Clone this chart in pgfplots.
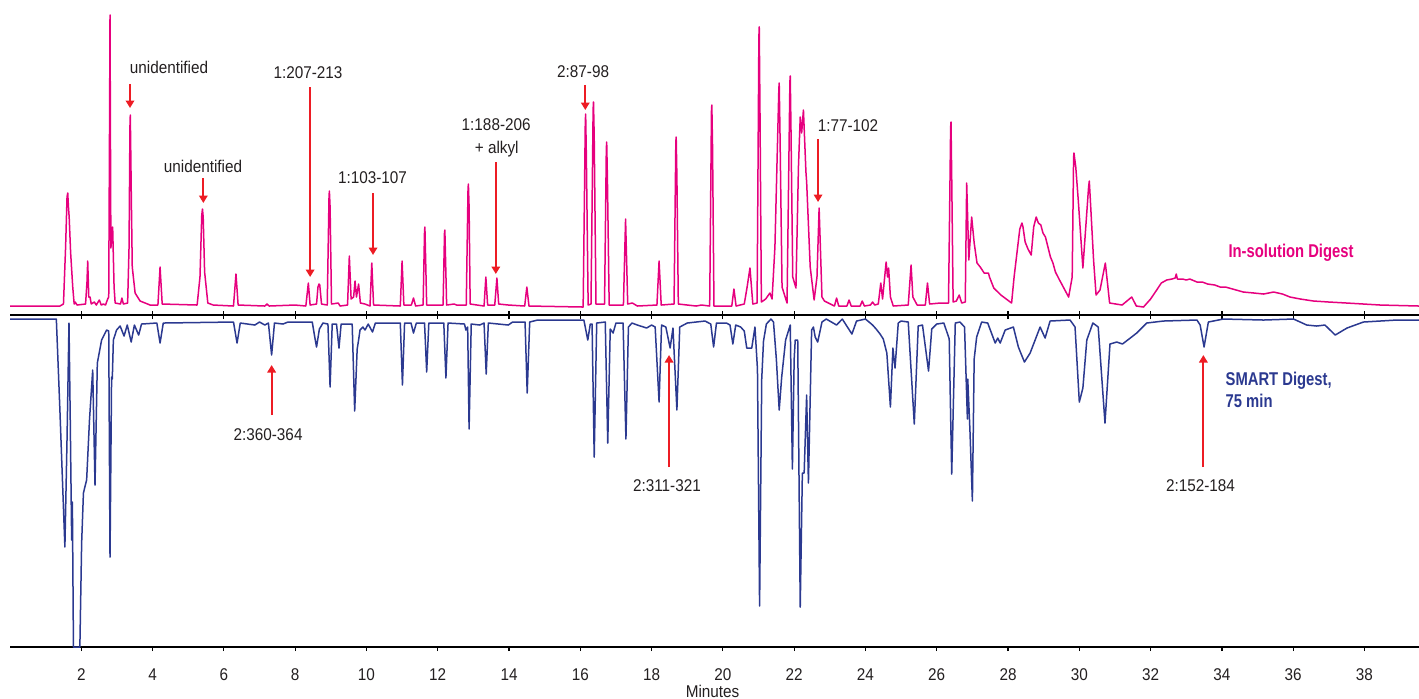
\documentclass[border=0pt]{standalone}
\usepackage{fontspec}
\setmainfont{Liberation Sans}[FakeStretch=0.9]
\newfontfamily\condbold{Liberation Sans}[FakeStretch=0.8]
\usepackage{pgfplots}
\pgfplotsset{compat=1.18}
\usepackage{pgfplotstable}
\usetikzlibrary{arrows.meta}
\definecolor{mag}{RGB}{230,0,126}
\definecolor{navy}{RGB}{43,57,144}
\definecolor{arr}{RGB}{237,28,36}
\definecolor{txt}{RGB}{35,31,32}
\newcommand\lab{\fontsize{17}{20}\selectfont}
\newcommand\blab{\condbold\bfseries\fontsize{18.5}{22}\selectfont}

% In-solution digest (intensity above its baseline)
\pgfplotstableread[row sep=\\]{
x y\\
0.00 1\\ 1.40 1\\ 1.50 3\\ 1.56 60\\ 1.60 110\\ 1.62 114\\ 1.64 100\\ 1.66 90\\ 1.70 55\\ 1.76 20\\ 1.80 3\\ 1.83 5\\ 1.88 2\\
2.12 3\\ 2.16 25\\ 2.18 46\\ 2.21 10\\ 2.245 10\\ 2.28 3\\ 2.366 5\\ 2.42 2\\ 2.506 7\\ 2.56 2\\ 2.62 3\\ 2.68 2\\ 2.74 8\\ 2.77 10\\
2.795 200\\ 2.806 292\\ 2.815 200\\ 2.83 59\\ 2.88 80\\ 2.92 20\\ 2.95 4\\ 3.10 3\\ 3.14 9\\ 3.18 3\\ 3.30 4\\ 3.34 60\\ 3.365 180\\ 3.375 192\\ 3.39 150\\ 3.40 120\\ 3.43 40\\ 3.51 14\\ 3.65 6\\ 3.93 2\\
4.15 2\\ 4.21 40\\ 4.27 3\\ 5.25 2\\ 5.33 30\\ 5.38 92\\ 5.40 98\\ 5.42 90\\ 5.46 35\\ 5.55 4\\ 5.70 2\\ 6.27 1\\ 6.34 33\\ 6.40 2\\ 7.15 1\\ 7.21 3\\ 7.27 1\\ 7.99 2\\
8.30 1\\ 8.37 24\\ 8.42 2\\ 8.60 3\\ 8.64 20\\ 8.67 23\\ 8.69 22\\ 8.74 3\\ 8.90 2\\ 8.95 110\\ 8.96 116\\ 8.98 100\\ 9.02 3\\ 9.21 4\\ 9.26 1\\ 9.47 2\\ 9.52 51\\ 9.57 8\\
9.64 10\\ 9.68 26\\ 9.72 10\\ 9.78 23\\ 9.83 4\\ 9.96 3\\ 10.10 1\\ 10.15 44\\ 10.20 2\\ 10.95 1\\ 11.00 46\\ 11.05 2\\ 11.26 2\\ 11.32 9\\ 11.38 1\\
11.59 2\\ 11.63 76\\ 11.64 80\\ 11.69 2\\ 12.15 2\\ 12.19 74\\ 12.20 77\\ 12.25 2\\ 12.46 3\\ 12.53 2\\ 12.80 2\\ 12.85 118\\ 12.86 123\\ 12.88 100\\ 12.91 3\\ 13.30 1\\ 13.35 30\\ 13.40 2\\
13.60 2\\ 13.66 29\\ 13.71 3\\ 13.98 2\\ 14.44 1\\ 14.50 20\\ 14.56 1\\ 16.08 0\\ 16.14 185\\ 16.15 193\\ 16.17 150\\ 16.22 2\\ 16.30 3\\ 16.36 198\\ 16.37 205\\ 16.39 170\\ 16.44 3\\ 16.68 3\\
16.73 158\\ 16.74 165\\ 16.76 130\\ 16.81 2\\ 17.21 2\\ 17.27 88\\ 17.33 3\\ 17.46 4\\ 17.60 1\\ 18.15 2\\ 18.21 46\\ 18.27 2\\ 18.63 3\\ 18.68 165\\ 18.69 170\\ 18.71 130\\ 18.75 3\\ 19.25 1\\
19.40 2\\ 19.63 1\\ 19.68 196\\ 19.69 202\\ 19.71 160\\ 19.75 1\\ 20.25 1\\ 20.31 18\\ 20.37 1\\ 20.60 3\\ 20.68 20\\ 20.76 39\\ 20.84 3\\ 20.96 4\\ 21.01 270\\ 21.02 280\\ 21.04 200\\ 21.08 5\\
21.20 8\\ 21.32 14\\ 21.38 8\\ 21.46 60\\ 21.57 218\\ 21.58 224\\ 21.60 180\\ 21.66 20\\ 21.80 4\\ 21.88 225\\ 21.89 231\\ 21.91 180\\ 21.96 30\\ 22.05 19\\ 22.12 140\\ 22.17 190\\ 22.21 174\\
22.26 197\\ 22.33 135\\ 22.35 125\\ 22.45 40\\ 22.56 7\\ 22.64 30\\ 22.70 99\\ 22.78 10\\ 22.85 6\\ 23.13 1\\ 23.19 9\\ 23.25 1\\ 23.48 1\\ 23.54 7\\
23.60 1\\ 23.85 1\\ 23.91 6\\ 23.97 1\\ 24.14 2\\ 24.20 5\\ 24.26 2\\ 24.36 3\\ 24.43 24\\ 24.48 8\\ 24.58 45\\ 24.62 30\\ 24.65 39\\ 24.70 10\\
24.78 1\\ 25.20 2\\ 25.28 42\\ 25.33 10\\ 25.45 2\\ 25.68 2\\ 25.74 24\\ 25.80 3\\ 26.10 4\\ 26.33 4\\ 26.39 180\\ 26.40 185\\ 26.42 130\\ 26.46 5\\ 26.55 6\\ 26.63 12\\
26.70 4\\ 26.80 5\\ 26.84 124\\ 26.90 47\\ 26.98 90\\ 27.05 64\\ 27.13 44\\ 27.22 40\\ 27.33 34\\ 27.45 34\\ 27.48 30\\ 27.60 19\\ 27.80 12\\
28.10 4\\ 28.17 30\\ 28.25 54\\ 28.33 78\\ 28.39 84\\ 28.42 80\\ 28.48 65\\ 28.56 58\\ 28.65 52\\ 28.72 80\\ 28.79 90\\ 28.85 84\\ 28.92 82\\ 28.98 74\\ 29.05 70\\ 29.12 60\\ 29.19 50\\ 29.26 44\\ 29.33 35\\ 29.43 28\\ 29.52 22\\ 29.70 10\\
29.80 30\\ 29.84 150\\ 29.85 154\\ 29.90 140\\ 29.97 107\\ 30.10 39\\ 30.26 120\\ 30.28 126\\ 30.32 100\\ 30.40 47\\ 30.47 12\\ 30.58 17\\ 30.73 44\\ 30.85 4\\ 31.20 2\\ 31.47 10\\ 31.60 1\\
31.80 0\\ 32.00 8\\ 32.17 17\\ 32.30 24\\ 32.45 27\\ 32.60 28\\ 32.69 29\\ 32.72 33\\ 32.75 28\\ 32.90 28\\ 33.00 27\\ 33.10 28\\ 33.30 25\\ 33.45 25\\ 33.60 23\\ 33.80 22\\ 33.95 20\\ 34.10 20\\ 34.30 18\\ 34.60 15\\ 34.90 14\\
35.17 13\\ 35.45 15\\ 35.70 13\\ 35.91 10\\ 36.20 8\\ 36.57 6\\ 37.00 5\\ 37.50 4\\ 38.44 2\\ 39.53 1\\
}\topdata

% SMART digest (depth below its baseline)
\pgfplotstableread[row sep=\\]{
x y\\
0.00 0\\ 1.30 0\\ 1.40 91\\ 1.54 228\\ 1.60 120\\ 1.655 4\\ 1.69 100\\ 1.73 221\\ 1.75 183\\ 1.78 328\\ 1.96 328\\ 2.01 224\\ 2.06 174\\ 2.10 168\\
2.15 161\\ 2.23 101\\ 2.32 51\\ 2.385 166\\ 2.45 44\\ 2.57 21\\ 2.71 11\\ 2.77 12\\ 2.806 238\\ 2.85 58\\ 2.87 60\\ 2.90 21\\ 2.99 11\\ 3.09 7\\
3.20 17\\ 3.29 6\\ 3.40 23\\ 3.49 6\\ 3.61 16\\ 3.69 5\\ 4.12 4\\ 4.21 24\\ 4.30 4\\ 6.27 3\\ 6.37 24\\ 6.46 4\\ 6.87 6\\ 7.00 3\\ 7.15 6\\ 7.25 4\\
7.34 36\\ 7.42 4\\ 7.66 5\\ 7.80 3\\ 8.48 3\\ 8.55 18\\ 8.60 28\\ 8.68 10\\ 8.78 4\\ 8.92 5\\ 8.98 68\\ 9.04 5\\ 9.16 5\\ 9.23 29\\ 9.29 5\\ 9.60 5\\
9.67 92\\ 9.74 30\\ 9.78 21\\ 9.82 11\\ 9.90 8\\ 9.96 11\\ 10.05 5\\ 10.17 13\\ 10.25 4\\ 10.95 4\\ 11.01 66\\ 11.07 4\\ 11.25 4\\ 11.32 14\\
11.40 4\\ 11.63 4\\ 11.69 53\\ 11.75 4\\ 12.17 4\\ 12.23 59\\ 12.29 4\\ 12.75 5\\ 12.79 11\\ 12.84 8\\ 12.88 110\\ 12.94 5\\ 13.18 6\\ 13.30 4\\
13.36 55\\ 13.42 4\\ 13.70 5\\ 13.98 6\\ 14.10 3\\ 14.45 3\\ 14.51 74\\ 14.58 3\\ 14.80 1\\ 16.10 1\\ 16.21 21\\ 16.28 5\\ 16.33 5\\ 16.39 138\\
16.46 4\\ 16.70 3\\ 16.77 124\\ 16.84 10\\ 16.92 14\\ 17.00 4\\ 17.20 4\\ 17.28 120\\ 17.35 8\\ 17.45 4\\ 17.60 6\\ 17.86 9\\ 18.00 6\\ 18.10 8\\
18.21 83\\ 18.28 6\\ 18.40 8\\ 18.52 29\\ 18.60 9\\ 18.71 91\\ 18.79 8\\ 19.00 4\\ 19.50 2\\ 19.66 5\\ 19.74 28\\ 19.82 4\\ 20.10 4\\ 20.20 6\\
20.28 25\\ 20.36 6\\ 20.50 8\\ 20.60 12\\ 20.67 29\\ 20.81 29\\ 20.90 8\\ 20.97 50\\ 21.03 287\\ 21.09 60\\ 21.14 22\\ 21.22 5\\ 21.35 0\\
21.42 3\\ 21.50 40\\ 21.58 91\\ 21.65 58\\ 21.76 21\\ 21.89 6\\ 21.95 150\\ 22.00 40\\ 22.03 21\\ 22.10 21\\ 22.17 288\\ 22.23 154\\ 22.28 154\\
22.35 76\\ 22.40 164\\ 22.49 11\\ 22.54 8\\ 22.59 18\\ 22.66 23\\ 22.78 3\\ 22.90 0\\ 23.19 6\\ 23.35 0\\ 23.62 15\\ 23.75 2\\ 24.00 0\\ 24.10 3\\
24.20 6\\ 24.30 10\\ 24.41 15\\ 24.50 20\\ 24.60 34\\ 24.70 88\\ 24.77 29\\ 24.83 49\\ 24.92 4\\ 25.00 2\\ 25.20 3\\ 25.37 105\\ 25.48 7\\ 25.60 6\\
25.77 52\\ 25.86 10\\ 26.00 5\\ 26.20 4\\ 26.35 20\\ 26.42 155\\ 26.52 4\\ 26.65 3\\ 26.78 8\\ 26.86 100\\ 26.87 60\\ 26.93 110\\ 27.00 182\\
27.05 40\\ 27.12 18\\ 27.26 3\\ 27.43 4\\ 27.64 24\\ 27.71 19\\ 27.78 24\\ 27.92 11\\ 28.15 8\\ 28.29 28\\ 28.46 43\\ 28.62 34\\ 28.90 8\\ 29.04 19\\
29.18 2\\ 29.74 1\\ 29.88 8\\ 30.00 83\\ 30.10 69\\ 30.21 21\\ 30.38 4\\ 30.53 8\\ 30.72 104\\ 30.86 25\\ 31.05 23\\ 31.21 25\\ 31.43 19\\ 31.61 14\\
31.89 4\\ 32.36 2\\ 33.30 1\\ 33.39 6\\ 33.50 28\\ 33.62 3\\ 34.04 0\\ 35.17 1\\ 36.01 0\\ 36.38 6\\ 36.66 7\\ 36.89 6\\ 37.18 16\\ 37.51 9\\
37.97 3\\ 38.91 1\\ 39.53 1\\
}\botdata

\begin{document}
\begin{tikzpicture}
\begin{axis}[
  x=35.64pt, y=1pt,
  xmin=0, xmax=39.53, ymin=0, ymax=647,
  axis x line*=bottom, axis y line=none,
  xtick={2,4,...,38}, ytick=\empty,
  tick align=outside, major tick length=4pt,
  x tick style={black, line width=1.2pt},
  axis line style={black, line width=1.5pt},
  /pgf/number format/assume math mode=true,
  xticklabel style={anchor=base, yshift=-29pt, font=\lab, text=txt, inner sep=0pt},
  clip=false,
]
\coordinate (bl) at (axis cs:-0.2806,-51);
\coordinate (tr) at (axis cs:39.53,647);

% middle baseline with ticks
\draw[black, line width=1.5pt] (axis cs:0,332) -- (axis cs:39.53,332);
\pgfplotsinvokeforeach{2,4,...,38}{\draw[black, line width=1.2pt] (axis cs:#1,328) -- (axis cs:#1,336);}

\addplot[mag, line width=1.5pt, line join=round, mark=none] table[x=x, y expr=\thisrow{y}+340] {\topdata};
\addplot[navy, line width=1.5pt, line join=round, mark=none] table[x=x, y expr=328-\thisrow{y}] {\botdata};

% annotation arrows
\tikzset{ann/.style={arr, line width=2pt, -{Triangle[width=8.5pt,length=7.5pt]}}}
\draw[ann] (axis cs:3.367,563) -- (axis cs:3.367,539);
\draw[ann] (axis cs:5.424,469) -- (axis cs:5.424,444);
\draw[ann] (axis cs:8.42,560) -- (axis cs:8.42,370);
\draw[ann] (axis cs:10.185,454) -- (axis cs:10.185,392);
\draw[ann] (axis cs:13.63,485) -- (axis cs:13.63,373);
\draw[ann] (axis cs:16.14,562) -- (axis cs:16.14,537);
\draw[ann] (axis cs:22.67,508) -- (axis cs:22.67,445);
\draw[ann] (axis cs:7.34,232) -- (axis cs:7.34,282);
\draw[ann] (axis cs:18.49,180) -- (axis cs:18.49,292);
\draw[ann] (axis cs:33.48,180) -- (axis cs:33.48,292);

% annotation texts
\tikzset{lb/.style={anchor=base, inner sep=0pt, font=\lab, text=txt}}
\node[lb] at (axis cs:4.46,573) {unidentified};
\node[lb] at (axis cs:5.415,475) {unidentified};
\node[lb] at (axis cs:8.36,568) {1:207-213};
\node[lb] at (axis cs:10.17,464) {1:103-107};
\node[lb] at (axis cs:13.64,517) {1:188-206};
\node[lb] at (axis cs:13.656,494) {+ alkyl};
\node[lb] at (axis cs:16.08,569) {2:87-98};
\node[lb] at (axis cs:23.51,516) {1:77-102};
\node[lb] at (axis cs:7.24,207) {2:360-364};
\node[lb] at (axis cs:18.43,156) {2:311-321};
\node[lb] at (axis cs:33.40,156) {2:152-184};
\node[lb] at (axis cs:19.71,-50) {Minutes};

\node[anchor=base, inner sep=0pt, font=\blab, text=mag] at (axis cs:35.94,390) {In-solution Digest};
\node[anchor=base west, inner sep=0pt, font=\blab, text=navy] at (axis cs:34.10,262) {SMART Digest,};
\node[anchor=base west, inner sep=0pt, font=\blab, text=navy] at (axis cs:34.10,240) {75 min};
\end{axis}
\pgfresetboundingbox
\path[use as bounding box] (bl) rectangle (tr);
\end{tikzpicture}
\end{document}
